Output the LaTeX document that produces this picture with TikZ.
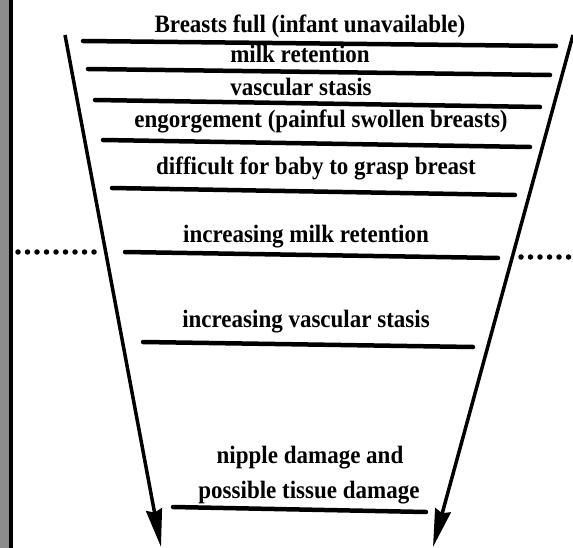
\documentclass[tikz,border=0pt]{standalone}
\usepackage{fontspec}
\newfontfamily\lblfont[FakeStretch=0.92]{Liberation Serif}
\usetikzlibrary{arrows.meta,positioning}
\tikzset{
  note/.style={font=\lblfont\bfseries\fontsize{25}{28}\selectfont,inner sep=0pt,anchor=base},
  bar/.style={line width=4.5pt,line cap=round},
  flow/.style={-{Stealth[length=38pt,width=16pt,inset=3pt]},line width=3.5pt},
  dots/.style={line width=5.5pt,line cap=round,dash pattern=on 0pt off 9.5pt},
}

\begin{document}
\begin{tikzpicture}[x=1pt,y=-1pt]
\useasboundingbox (0,0) rectangle (573,548);
% scanned left edge
\fill[black!45] (0,0) rectangle (9,548);
\fill (9,0) rectangle (13,548);
% the two arrows
\coordinate (ltop) at (65,35);
\coordinate (ltip) at (161,547);
\coordinate (rtop) at (573,35);
\coordinate (rtip) at (433,547);
\draw[flow] (ltop) -- (ltip);
\draw[flow] (rtop) -- (rtip);
% dotted divider
\coordinate (dl1) at (18,252);
\coordinate (dl2) at (100,252);
\coordinate (dr1) at (521,257);
\coordinate (dr2) at (573,257);
\draw[dots] (dl1) -- (dl2);
\draw[dots] (dr1) -- (dr2);
% bars
\draw[bar] (83,41) -- (556,46);
\draw[bar] (88,69) -- (550,75);
\draw[bar] (95,100) -- (540,107);
\draw[bar] (103,140) -- (530,147);
\draw[bar] (112,188) -- (515,195);
\draw[bar] (125,252) -- (498,258);
\draw[bar] (143,342) -- (473,347);
\draw[bar] (173,507) -- (426,512);
% labels
\node[note] (full) at (310,33) {Breasts full (infant unavailable)};
\node[note] (retain) at (300,63) {milk retention};
\node[note] (stasis) at (301,96) {vascular stasis};
\node[note] (engorge) at (321,128) {engorgement (painful swollen breasts)};
\node[note] (grasp) at (316,175) {difficult for baby to grasp breast};
\node[note] (incret) at (306,243) {increasing milk retention};
\node[note] (incstasis) at (306,327) {increasing vascular stasis};
\node[note] (damage) at (310,463) {nipple damage and};
\node[note] (tissue) at (309,498) {possible tissue damage};
\end{tikzpicture}
\end{document}
